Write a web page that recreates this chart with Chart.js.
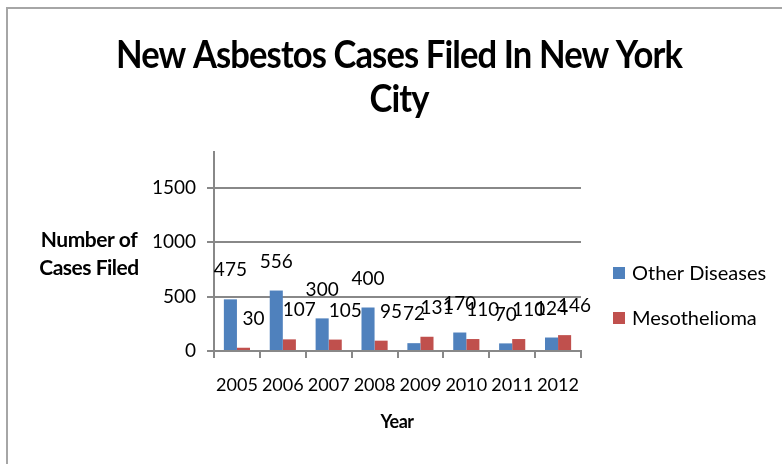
<!DOCTYPE html>
<html>
<head>
<meta charset="utf-8">
<script src="https://cdn.jsdelivr.net/npm/chart.js@4"></script>
<style>
html,body{margin:0;padding:0;background:#fff;}
#wrap{width:782px;height:464px;position:relative;}
</style>
</head>
<body>
<div id="wrap"><canvas id="c" width="782" height="464"></canvas></div>
<script>
const years = ['2005','2006','2007','2008','2009','2010','2011','2012'];
const otherDiseases = [475, 556, 300, 400, 72, 170, 70, 124];
const mesothelioma = [30, 107, 105, 95, 131, 110, 110, 146];
const yTickValues = [0, 500, 1000, 1500];
const titleLines = ['New Asbestos Cases Filed In New York', 'City'];
const yTitleLines = ['Number of', 'Cases Filed'];
const xTitle = 'Year';
const seriesNames = ['Other Diseases', 'Mesothelioma'];
const colors = ['#4F81BD', '#C0504D'];

const FONT = 'Lato, "Open Sans", sans-serif';
const GRID = '#888888';

function fitText(ctx, text, cx, baseline, maxW) {
  const w = ctx.measureText(text).width;
  const sx = Math.min(1, maxW / w);
  ctx.save();
  ctx.translate(cx, baseline);
  ctx.scale(sx, 1);
  ctx.fillText(text, 0, 0);
  ctx.restore();
}

const decor = {
  id: 'decor',
  beforeDraw(chart) {
    const ctx = chart.ctx;
    ctx.save();
    ctx.fillStyle = '#fff';
    ctx.fillRect(0, 0, chart.width, chart.height);
    ctx.strokeStyle = '#a6a6a6';
    ctx.lineWidth = 2;
    ctx.beginPath();
    ctx.moveTo(7, 464); ctx.lineTo(7, 8); ctx.lineTo(782, 8);
    ctx.stroke();
    ctx.restore();
  },
  afterDatasetsDraw(chart) {
    const ctx = chart.ctx;
    ctx.save();
    ctx.fillStyle = '#000';
    ctx.font = '19px ' + FONT;
    ctx.textAlign = 'center';
    ctx.textBaseline = 'middle';
    chart.data.datasets.forEach((ds, di) => {
      const meta = chart.getDatasetMeta(di);
      meta.data.forEach((el, i) => {
        const dx = di === 1 ? 10 : 0;
        ctx.fillText(String(ds.data[i]), el.x + dx, el.y - 29);
      });
    });
    ctx.restore();
  },
  afterDraw(chart) {
    const ctx = chart.ctx;
    ctx.save();
    ctx.fillStyle = '#000';
    ctx.textAlign = 'center';
    ctx.textBaseline = 'alphabetic';
    // title
    ctx.font = 'bold 38px ' + FONT;
    ctx.letterSpacing = '-1px';
    const w1 = ctx.measureText(titleLines[0]).width;
    const sx = 566 / w1;
    [[titleLines[0], 68], [titleLines[1], 112]].forEach(([t, y]) => {
      ctx.save(); ctx.translate(399, y); ctx.scale(sx, 1); ctx.fillText(t, 0, 0); ctx.restore();
    });
    ctx.letterSpacing = '-0.5px';
    // y title
    ctx.font = 'bold 21px ' + FONT;
    fitText(ctx, yTitleLines[0], 89, 247, 98);
    fitText(ctx, yTitleLines[1], 89, 275, 101);
    // x title
    ctx.font = 'bold 18px ' + FONT;
    ctx.fillText(xTitle, 397, 428);
    ctx.letterSpacing = '0px';
    // legend
    ctx.textAlign = 'left';
    ctx.font = '20px ' + FONT;
    const ly = [280, 325];
    seriesNames.forEach((n, i) => {
      ctx.fillStyle = colors[i];
      ctx.fillRect(613, ly[i] - 13, 12, 12);
      ctx.fillStyle = '#000';
      ctx.fillText(n, 632, ly[i]);
    });
    ctx.restore();
  }
};

new Chart(document.getElementById('c'), {
  type: 'bar',
  data: {
    labels: years,
    datasets: [
      { label: seriesNames[0], data: otherDiseases, backgroundColor: colors[0], barPercentage: 1.0, categoryPercentage: 0.57 },
      { label: seriesNames[1], data: mesothelioma, backgroundColor: colors[1], barPercentage: 1.0, categoryPercentage: 0.57 }
    ]
  },
  options: {
    responsive: false,
    animation: false,
    devicePixelRatio: 1,
    layout: { padding: { top: 152, left: 0, right: 201, bottom: 0 } },
    plugins: { legend: { display: false }, title: { display: false }, tooltip: { enabled: false } },
    scales: {
      x: {
        offset: true,
        grid: { display: true, offset: true, drawOnChartArea: false, drawTicks: true, tickLength: 7, color: GRID, lineWidth: 2 },
        border: { display: true, color: GRID, width: 2 },
        ticks: { color: '#000', font: { family: FONT, size: 18 }, padding: 16, maxRotation: 0, autoSkip: false },
        afterFit(s) { s.height = 113; }
      },
      y: {
        min: 0,
        max: 1830,
        afterBuildTicks(s) { s.ticks = yTickValues.map(v => ({ value: v })); },
        grid: { display: true, drawOnChartArea: true, drawTicks: true, tickLength: 7, color: GRID, lineWidth: 2 },
        border: { display: true, color: GRID, width: 2 },
        ticks: { color: '#000', font: { family: FONT, size: 19 }, padding: 11, callback: v => String(v) },
        afterFit(s) { s.width = 214; }
      }
    }
  },
  plugins: [decor]
});
</script>
</body>
</html>
